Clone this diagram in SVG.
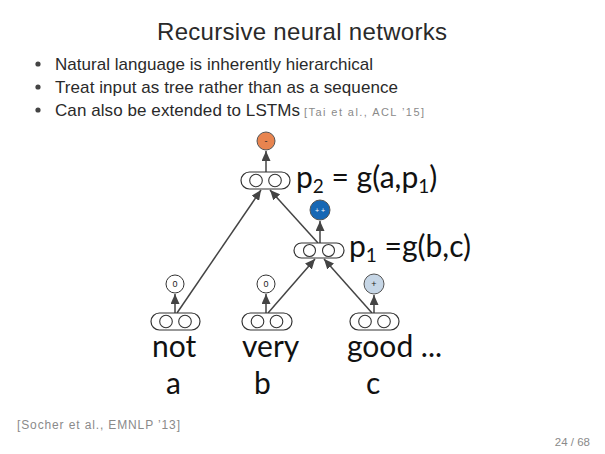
<svg xmlns="http://www.w3.org/2000/svg" width="605" height="454" viewBox="0 0 605 454">
<style>
.slide{font-family:"Liberation Sans","DejaVu Sans",sans-serif;fill:#2a2a2a}
.ref{font-family:"Liberation Sans","DejaVu Sans",sans-serif;fill:#8a8a8a}
.fig{font-family:Lato,"Open Sans","Liberation Sans",sans-serif;fill:#111}
.cap{fill:#fff;stroke:#333;stroke-width:1.2}
.in{fill:#fff;stroke:#333;stroke-width:1.1}
.lbl{font-family:"Liberation Sans",sans-serif;font-size:9px;text-anchor:middle;fill:#222}
.edge{stroke:#444;stroke-width:1.5;fill:none;marker-end:url(#ah)}
</style>
<defs>
<marker id="ah" markerUnits="userSpaceOnUse" markerWidth="10" markerHeight="9" refX="10" refY="4.5" orient="auto">
<path d="M0,0 L10,4.5 L0,9 z" fill="#444"/>
</marker>
</defs>
<rect width="605" height="454" fill="#fff"/>
<g id="title"><text class="slide" x="302" y="40" font-size="24" text-anchor="middle" textLength="290">Recursive neural networks</text></g>
<g id="bullets">
<circle cx="38" cy="64" r="2.6" fill="#444"/>
<text class="slide" x="55" y="69.5" font-size="17" textLength="318">Natural language is inherently hierarchical</text>
<circle cx="38" cy="87" r="2.6" fill="#444"/>
<text class="slide" x="55" y="92.5" font-size="17" textLength="343">Treat input as tree rather than as a sequence</text>
<circle cx="38" cy="110" r="2.6" fill="#444"/>
<text class="slide" x="55" y="115.5" font-size="17" textLength="245">Can also be extended to LSTMs</text>
<text class="ref" x="304" y="115.5" font-size="11" textLength="120">[Tai et al., ACL ’15]</text>
</g>
<g id="connectors">
<line class="edge" x1="266" y1="172" x2="266" y2="151"/>
<line class="edge" x1="320" y1="243" x2="320" y2="221"/>
<line class="edge" x1="175" y1="313" x2="175" y2="294"/>
<line class="edge" x1="266" y1="313" x2="266" y2="294"/>
<line class="edge" x1="374" y1="313" x2="374" y2="295"/>
<line class="edge" x1="177" y1="313" x2="261" y2="190"/>
<line class="edge" x1="318" y1="243" x2="270" y2="190"/>
<line class="edge" x1="268" y1="313" x2="315" y2="259"/>
<line class="edge" x1="372" y1="313" x2="324" y2="259"/>
</g>
<g id="out-p2"><circle cx="266" cy="141" r="9" fill="#e8844f" stroke="#555" stroke-width="1"/><text class="lbl" x="266" y="144">-</text></g>
<g id="p2"><rect class="cap" x="241" y="172" width="49" height="17" rx="8.5"/><circle class="in" cx="256" cy="180.5" r="6.3"/><circle class="in" cx="275" cy="180.5" r="6.3"/></g>
<g id="p2-label"><text class="fig" x="296" y="188" font-size="30">p<tspan font-size="19" dy="5">2</tspan><tspan dy="-5"> = g(a,p</tspan><tspan font-size="19" dy="5">1</tspan><tspan dy="-5">)</tspan></text></g>
<g id="out-p1"><circle cx="320" cy="210" r="10" fill="#1767b4" stroke="#555" stroke-width="1"/><text x="320" y="213" font-family="Liberation Sans,sans-serif" font-size="7" fill="#fff" text-anchor="middle">+  +</text></g>
<g id="p1"><rect class="cap" x="294" y="243" width="50" height="15" rx="7.5"/><circle class="in" cx="309.5" cy="250.5" r="6"/><circle class="in" cx="328.5" cy="250.5" r="6"/></g>
<g id="p1-label"><text class="fig" x="349" y="257" font-size="30">p<tspan font-size="19" dy="5">1</tspan><tspan dy="-5"> =g(b,c)</tspan></text></g>
<g id="out-a"><circle cx="175" cy="284" r="9" fill="#fff" stroke="#333" stroke-width="1"/><text class="lbl" x="175" y="287">0</text></g>
<g id="out-b"><circle cx="266" cy="284" r="9" fill="#fff" stroke="#333" stroke-width="1"/><text class="lbl" x="266" y="287">0</text></g>
<g id="out-c"><circle cx="374" cy="284" r="10" fill="#c6d6e6" stroke="#555" stroke-width="1"/><text class="lbl" x="374" y="287">+</text></g>
<g id="a"><rect class="cap" x="151" y="313" width="49" height="17" rx="8.5"/><circle class="in" cx="166" cy="321.5" r="6.3"/><circle class="in" cx="185" cy="321.5" r="6.3"/></g>
<g id="b"><rect class="cap" x="242" y="313" width="50" height="17" rx="8.5"/><circle class="in" cx="257.5" cy="321.5" r="6.3"/><circle class="in" cx="276.5" cy="321.5" r="6.3"/></g>
<g id="c"><rect class="cap" x="350" y="313" width="49" height="17" rx="8.5"/><circle class="in" cx="365" cy="321.5" r="6.3"/><circle class="in" cx="384" cy="321.5" r="6.3"/></g>
<g id="words">
<text class="fig" x="152" y="357" font-size="30">not</text>
<text class="fig" x="242" y="357" font-size="30">very</text>
<text class="fig" x="347" y="357" font-size="30">good ...</text>
<text class="fig" x="166" y="394" font-size="30">a</text>
<text class="fig" x="254" y="394" font-size="30">b</text>
<text class="fig" x="366" y="394" font-size="30">c</text>
</g>
<g id="footer">
<text class="ref" x="17" y="429" font-size="12" textLength="163">[Socher et al., EMNLP ’13]</text>
<text class="ref" x="590" y="446" font-size="11.5" text-anchor="end">24 / 68</text>
</g>
</svg>
